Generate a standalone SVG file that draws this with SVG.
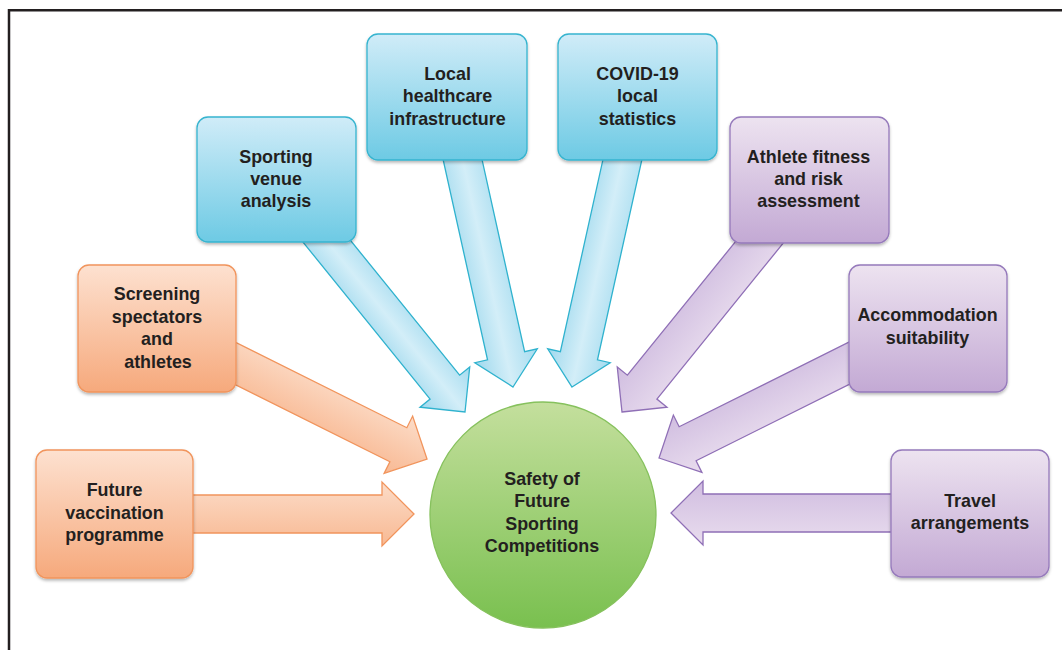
<svg xmlns="http://www.w3.org/2000/svg" width="1062" height="650" viewBox="0 0 1062 650">
<style>
  text { font-family: "Liberation Sans", Arial, sans-serif; font-weight: bold; font-size: 17.9px; fill: #231f20; text-anchor: middle; }
  .box { stroke-width: 1.3; }
  .orange { fill: url(#gOrange); stroke: #f1945c; }
  .blue { fill: url(#gBlue); stroke: #36b4cf; }
  .purple { fill: url(#gPurple); stroke: #9579bb; }
  .arr { stroke-width: 1.3; stroke-linejoin: miter; }
  .aO { fill: url(#aOrange); stroke: #f1945c; }
  .aB { fill: url(#aBlue); stroke: #2fb2ce; }
  .aP { fill: url(#aPurple); stroke: #8f6fb6; }
</style>
<defs>
  <linearGradient id="gOrange" x1="0" y1="0" x2="0" y2="1">
    <stop offset="0" stop-color="#fde1d0"/>
    <stop offset="1" stop-color="#f6a97c"/>
  </linearGradient>
  <linearGradient id="gBlue" x1="0" y1="0" x2="0" y2="1">
    <stop offset="0" stop-color="#d0ecf8"/>
    <stop offset="1" stop-color="#6dcae4"/>
  </linearGradient>
  <linearGradient id="gPurple" x1="0" y1="0" x2="0" y2="1">
    <stop offset="0" stop-color="#ede3f0"/>
    <stop offset="1" stop-color="#c3a9d4"/>
  </linearGradient>
  <linearGradient id="gGreen" x1="0" y1="0" x2="0" y2="1">
    <stop offset="0" stop-color="#c4df9d"/>
    <stop offset="1" stop-color="#79c04f"/>
  </linearGradient>
  <linearGradient id="aOrange" x1="0" y1="0" x2="0" y2="1">
    <stop offset="0" stop-color="#fcdcc8"/>
    <stop offset="1" stop-color="#f8b993"/>
  </linearGradient>
  <linearGradient id="aBlue" x1="0" y1="0" x2="0" y2="1">
    <stop offset="0" stop-color="#a4dbef"/>
    <stop offset="0.5" stop-color="#d3eef8"/>
    <stop offset="1" stop-color="#9ed8ed"/>
  </linearGradient>
  <linearGradient id="aPurple" x1="0" y1="0" x2="0" y2="1">
    <stop offset="0" stop-color="#e9ddee"/>
    <stop offset="1" stop-color="#d0bde0"/>
  </linearGradient>
  <filter id="sh" x="-10%" y="-10%" width="120%" height="130%">
    <feDropShadow dx="0" dy="2" stdDeviation="1.6" flood-color="#000" flood-opacity="0.28"/>
  </filter>
</defs>

<rect width="1062" height="650" fill="#ffffff"/>
<path d="M9 650 V10.3 H1062" fill="none" stroke="#231f20" stroke-width="2.5"/>

<g id="connectors">
  <path class="arr aO" transform="translate(414,514)" d="M0 0 L-32 -32 L-32 -19 L-234 -19 L-234 19 L-32 19 L-32 32 Z"/>
  <path class="arr aO" transform="translate(427,459) rotate(26.5)" d="M0 0 L-32 -32 L-32 -19 L-240 -19 L-240 19 L-32 19 L-32 32 Z"/>
  <path class="arr aB" transform="translate(465,412) rotate(51)" d="M0 0 L-32 -32 L-32 -19 L-250 -19 L-250 19 L-32 19 L-32 32 Z"/>
  <path class="arr aB" transform="translate(513,387) rotate(77.5)" d="M0 0 L-32 -32 L-32 -19 L-255 -19 L-255 19 L-32 19 L-32 32 Z"/>
  <path class="arr aB" transform="translate(572,387) rotate(102.5)" d="M0 0 L-32 -32 L-32 -19 L-255 -19 L-255 19 L-32 19 L-32 32 Z"/>
  <path class="arr aP" transform="translate(622,412) rotate(129)" d="M0 0 L-32 -32 L-32 -19 L-250 -19 L-250 19 L-32 19 L-32 32 Z"/>
  <path class="arr aP" transform="translate(659,458) rotate(153.5)" d="M0 0 L-32 -32 L-32 -19 L-240 -19 L-240 19 L-32 19 L-32 32 Z"/>
  <path class="arr aP" transform="translate(671,513) rotate(180)" d="M0 0 L-32 -32 L-32 -19 L-234 -19 L-234 19 L-32 19 L-32 32 Z"/>
</g>

<g id="node-vaccination">
  <rect class="box orange" x="36" y="450" width="157" height="128" rx="11" filter="url(#sh)"/>
  <text x="114.5" y="496">Future</text>
  <text x="114.5" y="518.5">vaccination</text>
  <text x="114.5" y="541">programme</text>
</g>
<g id="node-screening">
  <rect class="box orange" x="78" y="265" width="158" height="127" rx="11" filter="url(#sh)"/>
  <text x="157" y="300">Screening</text>
  <text x="157" y="322.5">spectators</text>
  <text x="157" y="345">and</text>
  <text x="158" y="367.5">athletes</text>
</g>
<g id="node-venue">
  <rect class="box blue" x="197" y="117" width="159" height="125" rx="11" filter="url(#sh)"/>
  <text x="276" y="162.5">Sporting</text>
  <text x="276" y="185">venue</text>
  <text x="276" y="207">analysis</text>
</g>
<g id="node-healthcare">
  <rect class="box blue" x="367" y="34" width="160" height="126" rx="11" filter="url(#sh)"/>
  <text x="447.5" y="79.5">Local</text>
  <text x="447.5" y="102">healthcare</text>
  <text x="447.5" y="124.5">infrastructure</text>
</g>
<g id="node-covid">
  <rect class="box blue" x="558" y="34" width="159" height="126" rx="11" filter="url(#sh)"/>
  <text x="637.5" y="79.5">COVID-19</text>
  <text x="637.5" y="102">local</text>
  <text x="637.5" y="124.5">statistics</text>
</g>
<g id="node-athlete">
  <rect class="box purple" x="730" y="117" width="159" height="126" rx="11" filter="url(#sh)"/>
  <text x="808.5" y="163">Athlete fitness</text>
  <text x="808.5" y="185">and risk</text>
  <text x="808.5" y="207">assessment</text>
</g>
<g id="node-accommodation">
  <rect class="box purple" x="849" y="265" width="158" height="127" rx="11" filter="url(#sh)"/>
  <text x="927.5" y="321">Accommodation</text>
  <text x="927.5" y="343.5">suitability</text>
</g>
<g id="node-travel">
  <rect class="box purple" x="891" y="450" width="158" height="127" rx="11" filter="url(#sh)"/>
  <text x="970" y="507">Travel</text>
  <text x="970" y="529">arrangements</text>
</g>
<g id="node-safety">
  <circle cx="543" cy="515" r="113" fill="url(#gGreen)" stroke="#86c15d" stroke-width="1.3"/>
  <text x="542" y="484.5">Safety of</text>
  <text x="542" y="507">Future</text>
  <text x="542" y="529.5">Sporting</text>
  <text x="542" y="552">Competitions</text>
</g>
</svg>
